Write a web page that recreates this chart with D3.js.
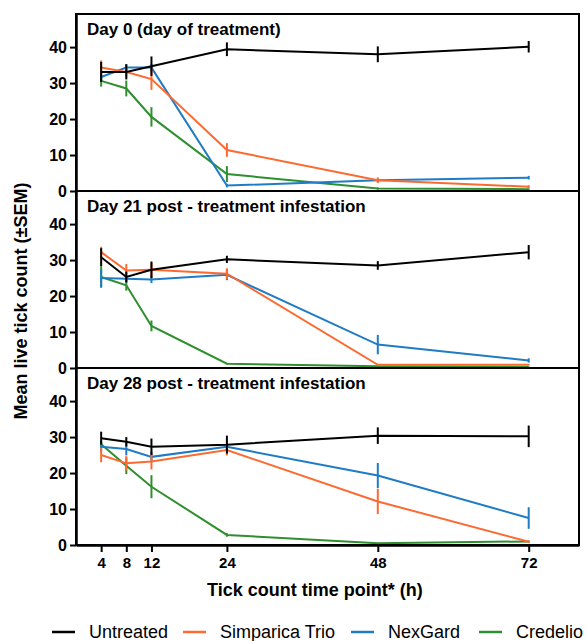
<!DOCTYPE html>
<html>
<head>
<meta charset="utf-8">
<script src="https://cdn.jsdelivr.net/npm/d3@7"></script>
<style>
  body { margin: 0; background: #fff; }
  svg { font-family: "Liberation Sans", Arial, sans-serif; }
</style>
</head>
<body>
<svg id="chart"></svg>
<script>
// time points (h)
var hours = [4, 8, 12, 24, 48, 72];
var seriesNames = ["Untreated", "Simparica Trio", "NexGard", "Credelio"];
var seriesColors = ["#000000", "#fc6a32", "#1f7cc4", "#2e8f2e"];
var panelTitles = ["Day 0 (day of treatment)", "Day 21 post - treatment infestation", "Day 28 post - treatment infestation"];
var yTicks = [0, 10, 20, 30, 40];

// Day 0
var untreated0 = [33.1, 33.1, 34.7, 39.4, 38.0, 40.1];
var untreated0Sem = [2.8, 2.1, 2.7, 1.9, 2.2, 1.6];
var simparica0 = [34.3, 33.1, 31.1, 11.4, 3.0, 1.2];
var simparica0Sem = [2.0, 1.5, 3.0, 1.9, 0.8, 0.4];
var nexgard0 = [31.7, 34.3, 34.3, 1.5, 3.0, 3.7];
var nexgard0Sem = [1.0, 1.0, 1.0, 0.5, 0.4, 0.5];
var credelio0 = [30.6, 28.5, 20.6, 4.7, 0.7, 0.5];
var credelio0Sem = [1.6, 2.2, 2.7, 2.2, 0.3, 0.2];

// Day 21
var untreated21 = [30.8, 25.3, 27.3, 30.2, 28.5, 32.2];
var untreated21Sem = [2.5, 1.5, 2.3, 1.0, 1.2, 2.0];
var simparica21 = [32.2, 27.1, 27.3, 26.2, 0.9, 0.9];
var simparica21Sem = [1.5, 1.8, 2.0, 1.5, 0.2, 0.2];
var nexgard21 = [25.0, 24.8, 24.6, 25.9, 6.5, 2.1];
var nexgard21Sem = [2.5, 1.0, 1.0, 1.5, 2.7, 0.6];
var credelio21 = [25.3, 23.0, 11.7, 1.2, 0.5, 0.3];
var credelio21Sem = [3.0, 1.5, 1.5, 0.2, 0.1, 0.1];

// Day 28
var untreated28 = [29.7, 28.7, 27.3, 27.9, 30.4, 30.2];
var untreated28Sem = [1.8, 1.3, 2.3, 2.5, 2.3, 3.0];
var simparica28 = [25.0, 22.7, 23.2, 26.4, 12.1, 0.9];
var simparica28Sem = [2.0, 2.0, 2.2, 1.5, 3.5, 0.3];
var nexgard28 = [27.3, 26.7, 24.5, 27.3, 19.3, 7.5];
var nexgard28Sem = [1.5, 1.8, 1.5, 1.0, 3.5, 3.0];
var credelio28 = [28.0, 22.0, 16.2, 2.8, 0.5, 1.0];
var credelio28Sem = [1.0, 2.3, 3.2, 0.5, 0.1, 0.2];

var panels = [
  { means: [untreated0, simparica0, nexgard0, credelio0], sems: [untreated0Sem, simparica0Sem, nexgard0Sem, credelio0Sem] },
  { means: [untreated21, simparica21, nexgard21, credelio21], sems: [untreated21Sem, simparica21Sem, nexgard21Sem, credelio21Sem] },
  { means: [untreated28, simparica28, nexgard28, credelio28], sems: [untreated28Sem, simparica28Sem, nexgard28Sem, credelio28Sem] }
];

var W = 587, H = 641;
var plotLeft = 76, plotRight = 579, plotTop = 14, panelH = 177;

var svg = d3.select("#chart").attr("width", W).attr("height", H);

var x = d3.scaleLinear().domain([0, 80]).range([plotLeft, plotRight]);

panels.forEach(function(p, pi) {
  var y0 = plotTop + pi * panelH;
  var y = d3.scaleLinear().domain([0, 49.2]).range([y0 + panelH, y0]);
  var g = svg.append("g");

  g.append("rect")
    .attr("x", plotLeft).attr("y", y0)
    .attr("width", plotRight - plotLeft).attr("height", panelH)
    .attr("fill", "none").attr("stroke", "#000").attr("stroke-width", 2);

  g.append("text")
    .attr("x", 87).attr("y", y0 + 21)
    .attr("font-size", 17).attr("font-weight", "bold")
    .text(panelTitles[pi]);

  var yAxis = g.append("g")
    .attr("transform", "translate(" + plotLeft + ",0)")
    .call(d3.axisLeft(y).tickValues(yTicks).tickSize(6).tickSizeOuter(0).tickPadding(3));
  yAxis.select(".domain").attr("stroke-width", 2.5);
  yAxis.selectAll(".tick line").attr("stroke-width", 2);
  yAxis.selectAll("text").attr("font-size", 16).attr("font-weight", "bold")
    .attr("fill", "#000").attr("font-family", "Liberation Sans, Arial, sans-serif");

  // draw in reverse so Untreated sits on top
  for (var s = seriesNames.length - 1; s >= 0; s--) {
    var pts = hours.map(function(h, i) { return { h: h, v: p.means[s][i], e: p.sems[s][i] }; });
    var line = d3.line().x(function(d) { return x(d.h); }).y(function(d) { return y(d.v); });
    g.append("path").datum(pts)
      .attr("d", line)
      .attr("fill", "none").attr("stroke", seriesColors[s]).attr("stroke-width", 2);
    g.selectAll(null).data(pts).enter().append("line")
      .attr("x1", function(d) { return x(d.h); })
      .attr("x2", function(d) { return x(d.h); })
      .attr("y1", function(d) { return y(Math.max(0, d.v - d.e)); })
      .attr("y2", function(d) { return y(d.v + d.e); })
      .attr("stroke", seriesColors[s]).attr("stroke-width", 2);
  }

  if (pi === panels.length - 1) {
    var xAxis = g.append("g")
      .attr("transform", "translate(0," + (y0 + panelH) + ")")
      .call(d3.axisBottom(x).tickValues(hours).tickSize(7).tickSizeOuter(0).tickPadding(5));
    xAxis.select(".domain").attr("stroke-width", 2.5);
    xAxis.selectAll(".tick line").attr("stroke-width", 2);
    xAxis.selectAll("text").attr("font-size", 15).attr("font-weight", "bold")
      .attr("fill", "#000").attr("font-family", "Liberation Sans, Arial, sans-serif");
  }
});

// axis titles
svg.append("text")
  .attr("transform", "translate(27,301) rotate(-90)")
  .attr("text-anchor", "middle")
  .attr("font-size", 18).attr("font-weight", "bold")
  .text("Mean live tick count (\u00b1SEM)");

svg.append("text")
  .attr("x", (x(4) + x(72)) / 2).attr("y", 596)
  .attr("text-anchor", "middle")
  .attr("font-size", 18).attr("font-weight", "bold")
  .text("Tick count time point* (h)");

// legend
var legendX = [52, 183, 351, 479];
var legend = svg.append("g");
seriesNames.forEach(function(name, i) {
  legend.append("line")
    .attr("x1", legendX[i]).attr("x2", legendX[i] + 23)
    .attr("y1", 632).attr("y2", 632)
    .attr("stroke", seriesColors[i]).attr("stroke-width", 2.5);
  legend.append("text")
    .attr("x", legendX[i] + 37).attr("y", 638)
    .attr("font-size", 18)
    .text(name);
});
</script>
</body>
</html>
